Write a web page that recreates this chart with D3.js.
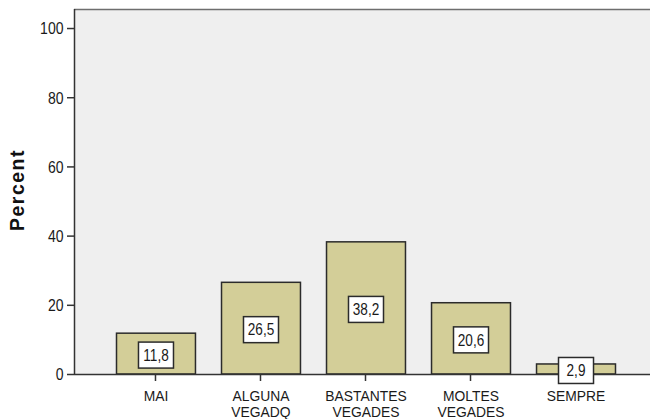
<!DOCTYPE html>
<html>
<head>
<meta charset="utf-8">
<script src="https://cdn.jsdelivr.net/npm/d3@7"></script>
<style>
  html, body { margin: 0; padding: 0; background: #ffffff; }
  svg { display: block; font-family: "Liberation Sans", Arial, sans-serif; }
</style>
</head>
<body>
<svg id="chart" width="650" height="419"></svg>
<script>
// Response categories (two-line labels) and their percentages
const categories = ["MAI", "ALGUNA\nVEGADQ", "BASTANTES\nVEGADES", "MOLTES\nVEGADES", "SEMPRE"];
const percents = [11.8, 26.5, 38.2, 20.6, 2.9];
const yTicks = [0, 20, 40, 60, 80, 100];
const yTitle = "Percent";

const svg = d3.select("#chart");
const plotLeft = 74, plotRight = 657, plotTop = 9, plotBottom = 374;
// Text is drawn tall and narrow: full font size vertically, squeezed horizontally
const squeeze = 0.85;

const x = d3.scaleBand()
  .domain(categories)
  .range([plotLeft, plotRight])
  .paddingInner(0.248)
  .paddingOuter(0.4);

const y = d3.scaleLinear()
  .domain([0, 105.5])
  .range([plotBottom, plotTop]);

// Plot background
svg.append("rect")
  .attr("x", plotLeft).attr("y", plotTop)
  .attr("width", plotRight - plotLeft).attr("height", plotBottom - plotTop)
  .attr("fill", "#efefef");
svg.append("line")
  .attr("x1", plotLeft).attr("x2", plotRight)
  .attr("y1", plotTop + 0.5).attr("y2", plotTop + 0.5)
  .attr("stroke", "#6e6e6e").attr("stroke-width", 1.5);

// Bars
svg.append("g").selectAll("rect")
  .data(categories)
  .join("rect")
  .attr("x", d => x(d) + 0.5)
  .attr("y", (d, i) => y(percents[i]))
  .attr("width", x.bandwidth())
  .attr("height", (d, i) => plotBottom - y(percents[i]))
  .attr("fill", "#d3ce98")
  .attr("stroke", "#2b2b2b")
  .attr("stroke-width", 1.5);

// Y axis
const yAxis = svg.append("g")
  .attr("transform", `translate(${plotLeft},0)`)
  .call(d3.axisLeft(y).tickValues(yTicks).tickSize(7).tickFormat(""));
yAxis.select(".domain").attr("d", `M0.5,${plotTop}V${plotBottom}`).attr("stroke", "#333").attr("stroke-width", 1.5);
yAxis.selectAll(".tick line").attr("stroke", "#333").attr("stroke-width", 1.5);
yAxis.selectAll(".tick text").remove();
yAxis.selectAll(".tick").append("text")
  .attr("transform", `translate(-10.5,0) scale(${squeeze},1)`)
  .attr("text-anchor", "end")
  .attr("dy", "0.36em")
  .attr("font-size", 16.5)
  .attr("fill", "#1a1a1a")
  .text(d => d3.format("d")(d));

// X axis
const xAxis = svg.append("g")
  .attr("transform", `translate(0,${plotBottom})`)
  .call(d3.axisBottom(x).tickSize(7).tickFormat(""));
xAxis.select(".domain").attr("d", `M${plotLeft},0.5H${plotRight}`).attr("stroke", "#333").attr("stroke-width", 1.5);
xAxis.selectAll(".tick line").attr("stroke", "#333").attr("stroke-width", 1.5);

// Two-line category labels, one text per line
const catLabels = svg.append("g").selectAll("g")
  .data(categories)
  .join("g")
  .attr("transform", d => `translate(${x(d) + x.bandwidth() / 2 + 0.5},0)`);
catLabels.selectAll("text")
  .data(d => d.split("\n"))
  .join("text")
  .attr("transform", (ln, k) => `translate(0,${400.5 + k * 16}) scale(0.97,1)`)
  .attr("text-anchor", "middle")
  .attr("font-size", 14.3)
  .attr("fill", "#1a1a1a")
  .text(ln => ln);

// Value label boxes
const lab = svg.append("g").selectAll("g")
  .data(categories)
  .join("g")
  .attr("transform", (d, i) => `translate(${x(d) + x.bandwidth() / 2 + 0.5},${(y(percents[i]) + plotBottom) / 2 + 1.5})`);
lab.append("rect")
  .attr("x", -17.5).attr("y", -13)
  .attr("width", 35).attr("height", 26)
  .attr("fill", "#ffffff")
  .attr("stroke", "#2b2b2b")
  .attr("stroke-width", 1.5);
lab.append("text")
  .attr("transform", `scale(${squeeze},1)`)
  .attr("text-anchor", "middle")
  .attr("dy", "0.36em")
  .attr("font-size", 16)
  .attr("fill", "#1a1a1a")
  .text((d, i) => d3.format(".1f")(percents[i]).replace(".", ","));

// Y axis title
svg.append("text")
  .attr("transform", "translate(24,190) rotate(-90)")
  .attr("text-anchor", "middle")
  .attr("font-size", 19.5)
  .attr("font-weight", "bold")
  .attr("letter-spacing", 1.5)
  .attr("fill", "#111")
  .text(yTitle);
</script>
</body>
</html>
